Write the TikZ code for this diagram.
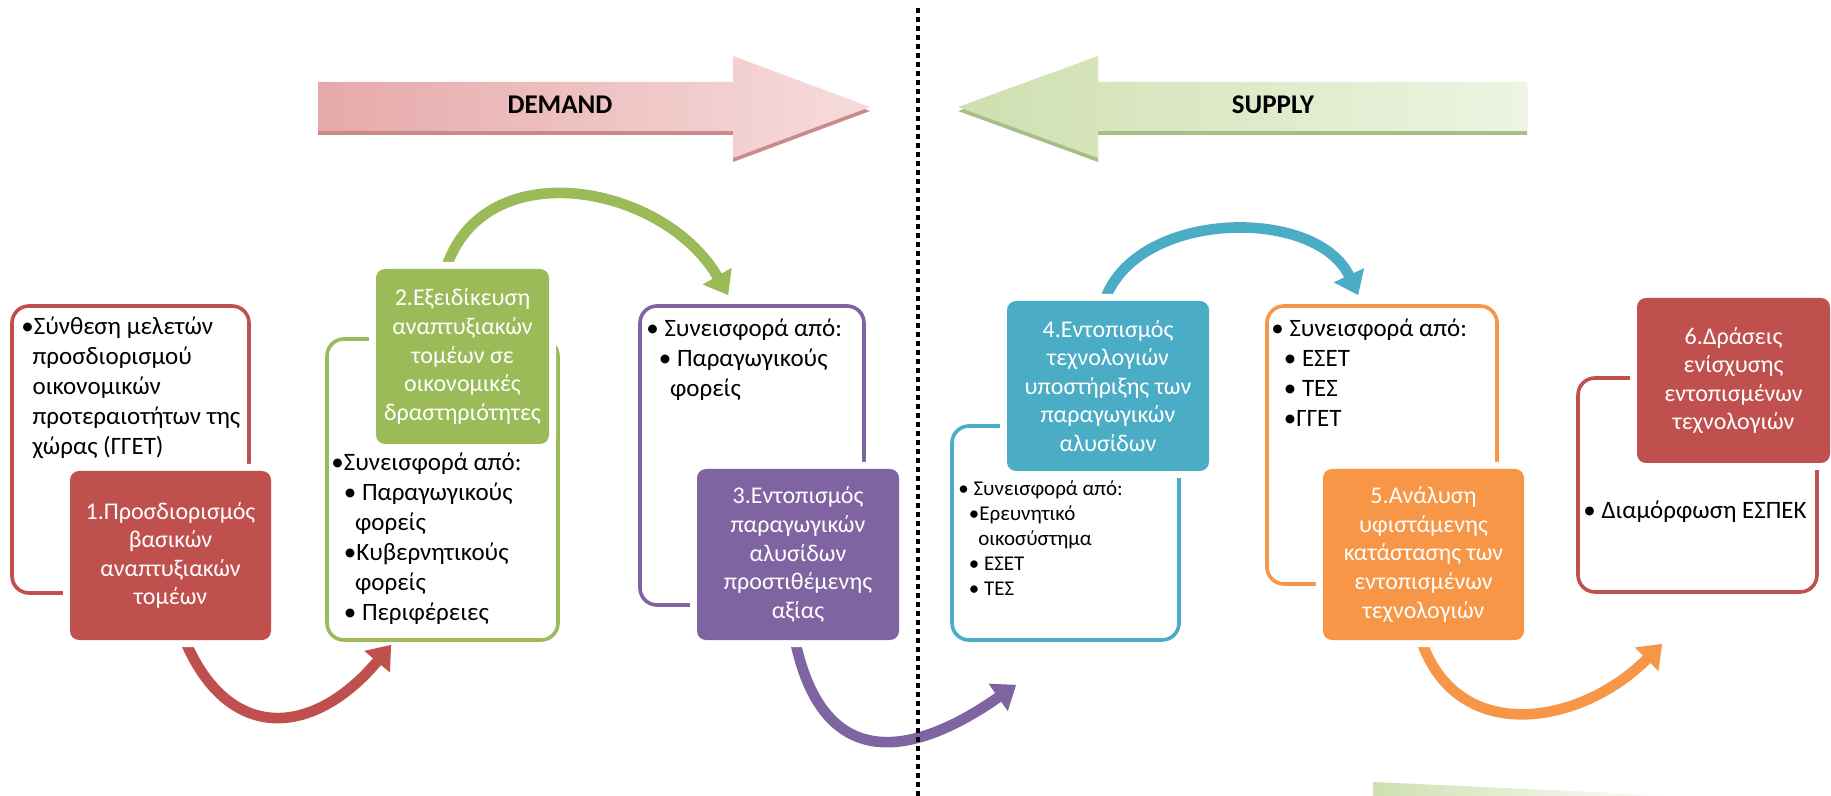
\documentclass[tikz,border=0pt]{standalone}
\usepackage{fontspec}
\setmainfont{Carlito}
\usetikzlibrary{arrows.meta,positioning}

\definecolor{stepred}{HTML}{C0504D}
\definecolor{stepgreen}{HTML}{9BBB59}
\definecolor{steppurple}{HTML}{8064A2}
\definecolor{stepblue}{HTML}{4BACC6}
\definecolor{steporange}{HTML}{F79646}
\definecolor{demandlight}{HTML}{F7DCDC}
\definecolor{demanddark}{HTML}{E6A9A9}
\definecolor{demandedge}{HTML}{C98A8A}
\definecolor{supplylight}{HTML}{EEF4E2}
\definecolor{supplydark}{HTML}{CFDFB0}
\definecolor{supplyedge}{HTML}{A9BD86}

\newcommand{\bt}{\textbullet}
\newcommand{\subi}{\hspace*{0.5em}}
\newcommand{\cont}{\hspace*{0.45em}}

\begin{document}
\begin{tikzpicture}[x=0.5pt, y=-0.5pt,
    stepbox/.style={rounded corners=4.5pt, fill=#1, text=white, align=center, inner sep=0pt,
        font=\fontsize{12}{14.3}\selectfont, preaction={draw=white, line width=7pt}},
    infobox/.style={draw=#1, line width=1.8pt, rounded corners=8.5pt, inner sep=0pt},
    infotext/.style={anchor=north west, align=left, inner sep=0pt, font=\fontsize{12.5}{15}\selectfont},
    flow/.style={draw=#1, line width=5.3pt, -{Triangle[length=11pt, width=16pt]}},
    bigarrowtext/.style={font=\fontsize{13.5}{16}\selectfont\bfseries, inner sep=0pt}]
\useasboundingbox (0,0) rectangle (1831,796);
\fill[white] (0,0) rectangle (1831,796);

% demand and supply
\fill[demandedge] (318,86) -- (733,86) -- (733,60) -- (870,111) -- (733,162) -- (733,135) -- (318,135) -- cycle;
\shade[left color=demanddark, right color=demandlight] (318,82) -- (733,82) -- (733,56) -- (870,107) -- (733,158) -- (733,131) -- (318,131) -- cycle;
\node[bigarrowtext] (demand) at (560,105) {DEMAND};

\fill[supplyedge] (1527,86) -- (1098,86) -- (1098,60) -- (958,111) -- (1098,162) -- (1098,135) -- (1527,135) -- cycle;
\shade[left color=supplydark, right color=supplylight] (1527,82) -- (1098,82) -- (1098,56) -- (958,107) -- (1098,158) -- (1098,131) -- (1527,131) -- cycle;
\node[bigarrowtext] (supply) at (1273,105) {SUPPLY};

\shade[left color=supplydark, right color=white] (1373,782) -- (1680,796) -- (1373,796) -- cycle;

% contribution boxes
\node[infobox=stepred, minimum width=118.5pt, minimum height=143.5pt] (c1) at (130.5,449.5) {};
\node[infobox=stepgreen, minimum width=115.5pt, minimum height=150.5pt] (c2) at (442.5,489.5) {};
\node[infobox=steppurple, minimum width=112pt, minimum height=149.5pt] (c3) at (752,455.5) {};
\node[infobox=stepblue, minimum width=113.5pt, minimum height=107pt] (c4) at (1065.5,533) {};
\node[infobox=steporange, minimum width=115pt, minimum height=139pt] (c5) at (1382,445) {};
\node[infobox=stepred, minimum width=119.5pt, minimum height=107pt] (c6) at (1697.5,485) {};

\node[infotext] (t1) at (21,316) {\bt Σύνθεση μελετών\\ \cont προσδιορισμού\\ \cont οικονομικών\\ \cont προτεραιοτήτων της\\ \cont χώρας (ΓΓΕΤ)};
\node[infotext] (t2) at (331,452) {\bt Συνεισφορά από:\\ \subi\bt\ Παραγωγικούς\\ \subi\cont φορείς\\ \subi\bt Κυβερνητικούς\\ \subi\cont φορείς\\ \subi\bt\ Περιφέρειες};
\node[infotext] (t3) at (646,318) {\bt\ Συνεισφορά από:\\ \subi\bt\ Παραγωγικούς\\ \subi\cont φορείς};
\node[infotext, font=\fontsize{10.5}{12.5}\selectfont] (t4) at (958,480) {\bt\ Συνεισφορά από:\\ \subi\bt Ερευνητικό\\ \subi\cont οικοσύστημα\\ \subi\bt\ ΕΣΕΤ\\ \subi\bt\ ΤΕΣ};
\node[infotext] (t5) at (1271,318) {\bt\ Συνεισφορά από:\\ \subi\bt\ ΕΣΕΤ\\ \subi\bt\ ΤΕΣ\\ \subi\bt ΓΓΕΤ};
\node[infotext] (t6) at (1583,500) {\bt\ Διαμόρφωση ΕΣΠΕΚ};

% flows between the steps
\draw[flow=stepred] (180,628) to[out=-70, in=-130, looseness=1.5] ([shift={(66,3)}]c2.south west);
\draw[flow=stepgreen] (444,275) to[out=75, in=120, looseness=1.17] ([shift={(90,-9)}]c3.north west);
\draw[flow=steppurple] (793,630) to[out=-80, in=-145, looseness=1.55] ([shift={(66,43)}]c4.south west);
\draw[flow=stepblue] (1103,306) to[out=75, in=115, looseness=1.0] ([shift={(93,-9)}]c5.north west);
\draw[flow=steporange] (1418,630) to[out=-75, in=-135, looseness=1.26] ([shift={(86,50)}]c6.south west);

% step boxes
\node[stepbox=stepred, minimum width=100.5pt, minimum height=84.5pt] (s1) at (170.5,555.5) {1.Προσδιορισμός\\βασικών\\αναπτυξιακών\\τομέων};
\node[stepbox=stepgreen, minimum width=86.5pt, minimum height=87.5pt] (s2) at (462.5,356.5) {2.Εξειδίκευση\\αναπτυξιακών\\τομέων σε\\οικονομικές\\δραστηριότητες};
\node[stepbox=steppurple, minimum width=101pt, minimum height=85.5pt] (s3) at (798,554.5) {3.Εντοπισμός\\παραγωγικών\\αλυσίδων\\προστιθέμενης\\αξίας};
\node[stepbox=stepblue, minimum width=101pt, minimum height=85pt] (s4) at (1108,386) {4.Εντοπισμός\\τεχνολογιών\\υποστήριξης των\\παραγωγικών\\αλυσίδων};
\node[stepbox=steporange, minimum width=100.5pt, minimum height=85.5pt] (s5) at (1423.5,554.5) {5.Ανάλυση\\υφιστάμενης\\κατάστασης των\\εντοπισμένων\\τεχνολογιών};
\node[stepbox=stepred, minimum width=96.5pt, minimum height=82.5pt] (s6) at (1733.5,380.5) {6.Δράσεις\\ενίσχυσης\\εντοπισμένων\\τεχνολογιών};

% divider
\draw[line width=2pt, dash pattern=on 2.5pt off 2pt] (918,8) -- (918,796);
\end{tikzpicture}
\end{document}
